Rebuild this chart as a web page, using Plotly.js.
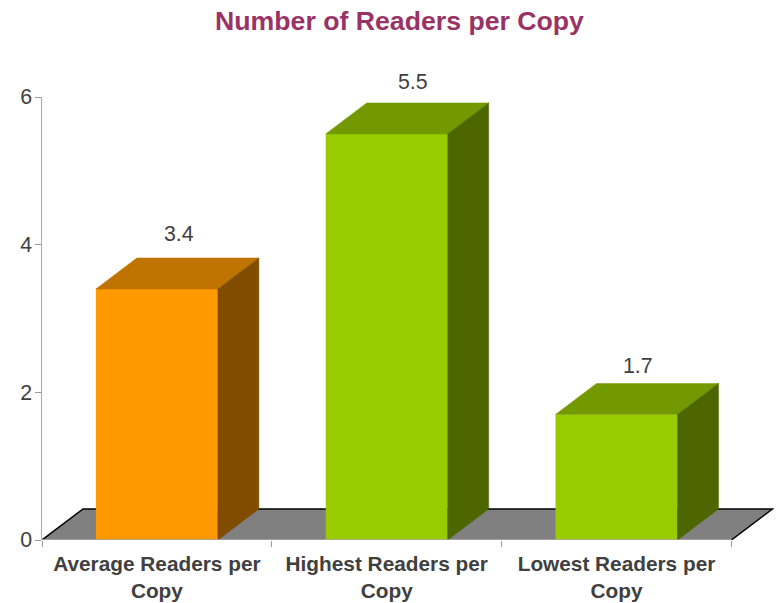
<!DOCTYPE html>
<html>
<head>
<meta charset="utf-8">
<script src="https://cdn.plot.ly/plotly-3.0.1.min.js"></script>
<style>html,body{margin:0;padding:0;background:#fff}</style>
</head>
<body>
<div id="chart" style="width:778px;height:603px"></div>
<script>
var categories = ["Average Readers per<br>Copy", "Highest Readers per<br>Copy", "Lowest Readers per<br>Copy"];
var readers = [3.4, 5.5, 1.7];
var yTicks = [0, 2, 4, 6];
var frontColors = ["#FF9900", "#99CC00", "#99CC00"];
var topColors = ["#BF7300", "#739900", "#739900"];
var sideColors = ["#804D00", "#4D6600", "#4D6600"];

var unitPx = 229.8;
var barWidth = 122 / unitPx, halfW = barWidth / 2;
var depthX = 41 / unitPx, depthY = 31 / (443 / 6);
var labelShiftX = [22, 26, 21], labelShiftY = [24, 21, 17];
var xIdx = categories.map(function (_, i) { return i; });
var traces = [{
  type: "bar", x: xIdx, y: readers, width: barWidth,
  marker: { color: frontColors, line: { width: 0 } }, hoverinfo: "skip", showlegend: false
}];
readers.forEach(function (v, i) {
  var l = i - halfW, r = i + halfW;
  traces.push({
    type: "scatter", mode: "lines", fill: "toself", fillcolor: topColors[i],
    x: [l, r, r + depthX, l + depthX, l], y: [v, v, v + depthY, v + depthY, v],
    line: { width: 0.5, color: topColors[i] }, hoverinfo: "skip", showlegend: false
  });
  traces.push({
    type: "scatter", mode: "lines", fill: "toself", fillcolor: sideColors[i],
    x: [r, r + depthX, r + depthX, r, r], y: [0, depthY, v + depthY, v, 0],
    line: { width: 0.5, color: sideColors[i] }, hoverinfo: "skip", showlegend: false
  });
});
var x0 = -0.5, x1 = 2.5;
var layout = {
  width: 778, height: 603, autosize: false,
  margin: { l: 42, r: 4, t: 97, b: 63, pad: 0 },
  paper_bgcolor: "#fff", plot_bgcolor: "rgba(0,0,0,0)",
  showlegend: false, hovermode: false,
  title: { text: "Number of Readers per Copy", x: 399.5 / 778, xanchor: "center", y: 1 - 21 / 603, yanchor: "middle",
    font: { family: "Liberation Sans", size: 26.67, color: "#993366", weight: 700 } },
  xaxis: {
    type: "linear", range: [-0.5, -0.5 + 732 / unitPx], fixedrange: true, showgrid: false, zeroline: false, showline: false,
    tickmode: "array", tickvals: xIdx, ticktext: categories, ticks: "", ticklabelstandoff: 9,
    tickfont: { family: "Liberation Sans", size: 20.8, color: "#404040", weight: 700 },
    minor: { tickmode: "array", tickvals: [-0.5, 0.5, 1.5, 2.5], ticks: "outside", ticklen: 6, tickwidth: 1, tickcolor: "#999", showgrid: false }
  },
  yaxis: {
    range: [0, 6], fixedrange: true, showgrid: false, zeroline: false, showline: true, linecolor: "#aaa", linewidth: 1.5,
    tickmode: "array", tickvals: yTicks, ticks: "outside", ticklen: 6, tickwidth: 1, tickcolor: "#999", ticklabelstandoff: -2,
    tickfont: { family: "Liberation Sans", size: 21.33, color: "#404040" }
  },
  shapes: [
    { type: "path", layer: "below", xref: "x", yref: "y",
      path: "M" + x0 + ",0 L" + x1 + ",0 L" + (x1 + depthX) + "," + depthY + " L" + (x0 + depthX) + "," + depthY + " Z",
      fillcolor: "#808080", line: { width: 0 } },
    { type: "path", layer: "below", xref: "x", yref: "y",
      path: "M" + x0 + ",0 L" + (x0 + depthX) + "," + depthY + " L" + (x1 + depthX) + "," + depthY + " L" + x1 + ",0",
      line: { width: 1.5, color: "#000" } },
    { type: "line", layer: "above", xref: "x", yref: "y", x0: x0, x1: x1, y0: 0, y1: 0, line: { width: 1.5, color: "#aaa" } }
  ],
  annotations: readers.map(function (v, i) {
    return { x: i, y: v + depthY, xref: "x", yref: "y", text: v.toFixed(1), showarrow: false,
      xanchor: "center", yanchor: "middle", xshift: labelShiftX[i], yshift: labelShiftY[i],
      font: { family: "Liberation Sans", size: 21.33, color: "#404040" } };
  })
};
Plotly.newPlot("chart", traces, layout, { displayModeBar: false, staticPlot: true });
</script>
</body>
</html>
